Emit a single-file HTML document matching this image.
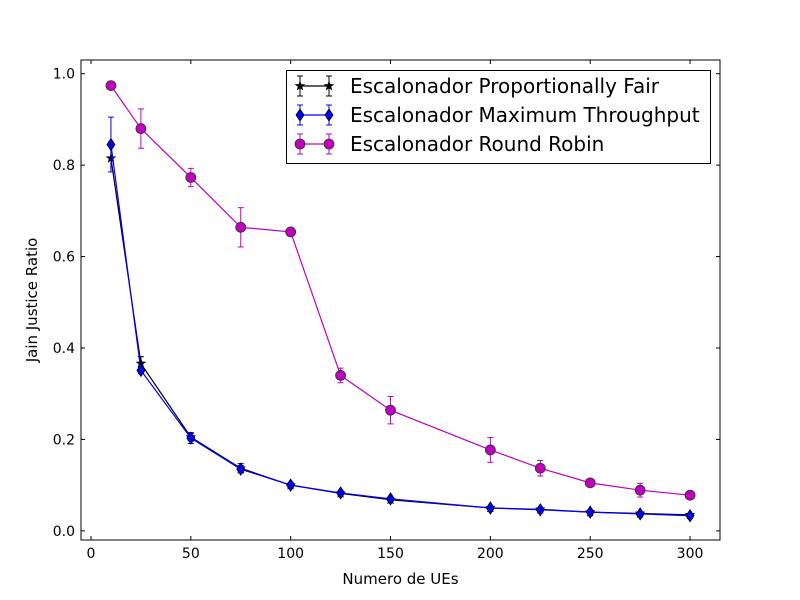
<!DOCTYPE html>
<html><head><meta charset="utf-8"><style>body{margin:0;background:#fff}svg{display:block}text{font-family:"DejaVu Sans","Liberation Sans",sans-serif}</style></head>
<body>
<svg id="chart" width="800" height="600" xmlns="http://www.w3.org/2000/svg"></svg>
<script>
const categories=[10,25,50,75,100,125,150,200,225,250,275,300];
const pfValues=[0.815,0.366,0.205,0.137,0.100,0.082,0.068,0.050,0.047,0.041,0.038,0.035];
const pfErrors=[0.03,0.015,0.008,0.01,0.005,0.004,0.004,0.003,0.003,0.003,0.003,0.003];
const mtValues=[0.845,0.351,0.203,0.135,0.100,0.083,0.070,0.050,0.046,0.041,0.037,0.033];
const mtErrors=[0.06,0.007,0.012,0.008,0.006,0.004,0.004,0.003,0.003,0.003,0.003,0.003];
const rrValues=[0.974,0.880,0.773,0.664,0.654,0.340,0.264,0.177,0.137,0.105,0.089,0.078];
const rrErrors=[0.004,0.043,0.02,0.043,0.007,0.016,0.03,0.027,0.017,0.005,0.015,0.005];
const xTicks=[0,50,100,150,200,250,300];
const yTicks=[0.0,0.2,0.4,0.6,0.8,1.0];
const yTickLabels=["0.0","0.2","0.4","0.6","0.8","1.0"];

const NS="http://www.w3.org/2000/svg";
const svg=document.getElementById('chart');
const L=81,R=720,T=60,B=540;
const xs=v=>L+(v+5)/320*(R-L);
const ys=v=>B-(v+0.02)/1.05*(B-T);
function el(tag,attrs,parent){const e=document.createElementNS(NS,tag);for(const k in attrs)e.setAttribute(k,attrs[k]);(parent||svg).appendChild(e);return e;}

const axes=el('g',{});


for(let i=0;i<xTicks.length;i++){
  const x=xs(xTicks[i]);
  el('line',{x1:x,x2:x,y1:B,y2:B-4,stroke:'#000'},axes);
  el('line',{x1:x,x2:x,y1:T,y2:T+4,stroke:'#000'},axes);
  const t=el('text',{x:x,y:B+18,'text-anchor':'middle','font-size':'14'},axes);
  t.textContent=xTicks[i];
  
  
}
for(let i=0;i<yTicks.length;i++){
  const y=ys(yTicks[i]);
  el('line',{x1:L,x2:L+4,y1:y,y2:y,stroke:'#000'},axes);
  el('line',{x1:R,x2:R-4,y1:y,y2:y,stroke:'#000'},axes);
  const t=el('text',{x:L-6,y:y+5,'text-anchor':'end','font-size':'14'},axes);
  t.textContent=yTickLabels[i];
  
  
}
const xt=el('text',{x:(L+R)/2,y:584,'text-anchor':'middle','font-size':'15'});
xt.textContent='Numero de UEs';


const yt=el('text',{x:0,y:0,'text-anchor':'middle','font-size':'15',transform:'translate(37,300) rotate(-90)'});
yt.textContent='Jain Justice Ratio';



function star(cx,cy,r){let p=[];for(let i=0;i<10;i++){const a=-Math.PI/2+i*Math.PI/5;const rr=i%2?r*0.4:r;p.push((cx+rr*Math.cos(a)).toFixed(1)+','+(cy+rr*Math.sin(a)).toFixed(1));}return p.join(' ');}
function marker(g,type,x,y,color){
  let m;
  if(type==='circle')m=el('circle',{cx:x,cy:y,r:5,fill:color,stroke:'#333','stroke-width':0.8},g);
  else if(type==='diamond')m=el('polygon',{points:`${x},${y-6} ${x+4},${y} ${x},${y+6} ${x-4},${y}`,fill:color,stroke:'#000','stroke-width':0.8},g);
  else m=el('polygon',{points:star(x,y,5),fill:color,stroke:'#000','stroke-width':0.5},g);
  return m;
}
function series(name,vals,errs,color,type){
  const g=el('g',{});
  
  
  el('polyline',{points:categories.map((c,i)=>xs(c)+','+ys(vals[i])).join(' '),fill:'none',stroke:color,'stroke-width':1.2},g);
  categories.forEach((c,i)=>{
    const x=xs(c),y1=ys(vals[i]+errs[i]),y2=ys(vals[i]-errs[i]);
    el('line',{x1:x,x2:x,y1:y1,y2:y2,stroke:color,'stroke-width':1},g);
    el('line',{x1:x-3,x2:x+3,y1:y1,y2:y1,stroke:color,'stroke-width':1},g);
    el('line',{x1:x-3,x2:x+3,y1:y2,y2:y2,stroke:color,'stroke-width':1},g);
  });
  categories.forEach((c,i)=>{
    const m=marker(g,type,xs(c),ys(vals[i]),color);
    
    
  });
}
series('series-round-robin',rrValues,rrErrors,'#bf00bf','circle');
series('series-proportionally-fair',pfValues,pfErrors,'#000','star');
series('series-maximum-throughput',mtValues,mtErrors,'#0000ff','diamond');

el('rect',{x:L,y:T,width:R-L,height:B-T,fill:'none',stroke:'#000','stroke-width':1});

const lg=el('g',{});


el('rect',{x:286.5,y:70.5,width:424,height:93,fill:'#fff',stroke:'#000'},lg);
const items=[['Escalonador Proportionally Fair','#000','star'],['Escalonador Maximum Throughput','#0000ff','diamond'],['Escalonador Round Robin','#bf00bf','circle']];
items.forEach((it,i)=>{
  const y=86+i*29;
  const g=el('g',{},lg);
  
  
  el('line',{x1:300,x2:329,y1:y,y2:y,stroke:it[1],'stroke-width':1.2},g);
  [300,329].forEach(x=>{
    el('line',{x1:x,x2:x,y1:y-10,y2:y+10,stroke:it[1]},g);
    el('line',{x1:x-3,x2:x+3,y1:y-10,y2:y-10,stroke:it[1]},g);
    el('line',{x1:x-3,x2:x+3,y1:y+10,y2:y+10,stroke:it[1]},g);
    marker(g,it[2],x,y,it[1]);
  });
  const t=el('text',{x:350,y:y+7,'font-size':'20'},g);
  t.textContent=it[0];
});
</script>
</body></html>
